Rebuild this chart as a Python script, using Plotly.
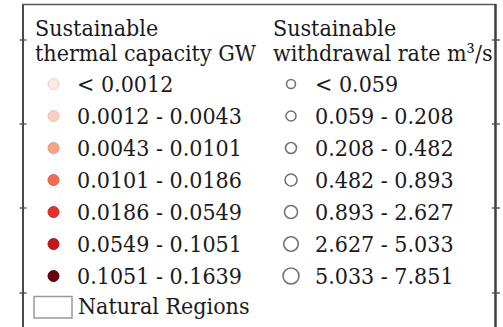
import plotly.graph_objects as go

# Legend classes
thermal_labels = ["< 0.0012", "0.0012 - 0.0043", "0.0043 - 0.0101", "0.0101 - 0.0186",
                  "0.0186 - 0.0549", "0.0549 - 0.1051", "0.1051 - 0.1639"]
thermal_colors = ["#fbe9e4", "#f9cfc0", "#f8a386", "#f46c4f", "#e3302a", "#c4171d", "#680010"]
thermal_edges = ["#e6d3ce", "#efbfae", "#ee9275", "#e85d40", "#d42520", "#b0121a", "#55000c"]

withdrawal_labels = ["< 0.059", "0.059 - 0.208", "0.208 - 0.482", "0.482 - 0.893",
                     "0.893 - 2.627", "2.627 - 5.033", "5.033 - 7.851"]
withdrawal_sizes = [9, 10, 11, 12, 13, 14.5, 16]

title_thermal = ["Sustainable", "thermal capacity GW"]
title_withdrawal = ["Sustainable", "withdrawal rate m\u00b3/s"]
region_label = "Natural Regions"

W, H = 503, 327
FONT = "DejaVu Serif Condensed, DejaVu Serif"
FS = 23
TXT = "#1a1a1a"

row0, step = 84, 32
rows = [row0 + i * step for i in range(len(thermal_labels))]
col1_marker, col1_text = 53.5, 75
col2_marker, col2_text = 291, 313
title_y = [28, 53]
text_dy = 0

fig = go.Figure()

fig.add_trace(go.Scatter(
    x=[col1_marker] * len(rows), y=rows, mode="markers",
    marker=dict(size=11, color=thermal_colors, line=dict(color=thermal_edges, width=1)),
    hoverinfo="skip", showlegend=False))

fig.add_trace(go.Scatter(
    x=[col2_marker] * len(rows), y=rows, mode="markers",
    marker=dict(size=withdrawal_sizes, color="rgba(0,0,0,0)",
                line=dict(color="#3a3a3a", width=1.6)),
    hoverinfo="skip", showlegend=False))

ann = []
def label(x, y, s):
    ann.append(dict(x=x, y=y + text_dy, text=s, xref="x", yref="y", showarrow=False,
                    xanchor="left", yanchor="middle",
                    font=dict(family=FONT, size=FS, color=TXT)))

for ty, s in zip(title_y, title_thermal):
    label(33, ty, s)
for ty, s in zip(title_y, title_withdrawal):
    label(271, ty, s)
for y, s in zip(rows, thermal_labels):
    label(col1_text, y, s)
for y, s in zip(rows, withdrawal_labels):
    label(col2_text, y, s)
label(76, 306, region_label)

shapes = [
    # map frame
    dict(type="line", x0=23, x1=23, y0=4.5, y1=H + 5, line=dict(color="#4a4a4a", width=2)),
    dict(type="line", x0=22, x1=496, y0=4.5, y1=4.5, line=dict(color="#5a5a5a", width=1.6)),
    dict(type="line", x0=495.5, x1=495.5, y0=4, y1=H + 5, line=dict(color="#3f3f3f", width=2.5)),
    # natural regions swatch
    dict(type="rect", x0=34, x1=72, y0=296.5, y1=318, line=dict(color="#9a9a9a", width=1.5),
         fillcolor="white"),
]
for ty in [40, 124, 208, 293]:
    shapes.append(dict(type="line", x0=19.5, x1=26.5, y0=ty, y1=ty,
                       line=dict(color="#4a4a4a", width=1.3)))
    shapes.append(dict(type="line", x0=492, x1=500, y0=ty, y1=ty,
                       line=dict(color="#4a4a4a", width=1.3)))

fig.update_layout(
    width=W, height=H, margin=dict(l=0, r=0, t=0, b=0),
    paper_bgcolor="white", plot_bgcolor="white",
    font=dict(family=FONT),
    xaxis=dict(range=[0, W], visible=False, fixedrange=True),
    yaxis=dict(range=[H, 0], visible=False, fixedrange=True),
    annotations=ann, shapes=shapes,
)

fig.write_html("out.html", config={"displayModeBar": False})
